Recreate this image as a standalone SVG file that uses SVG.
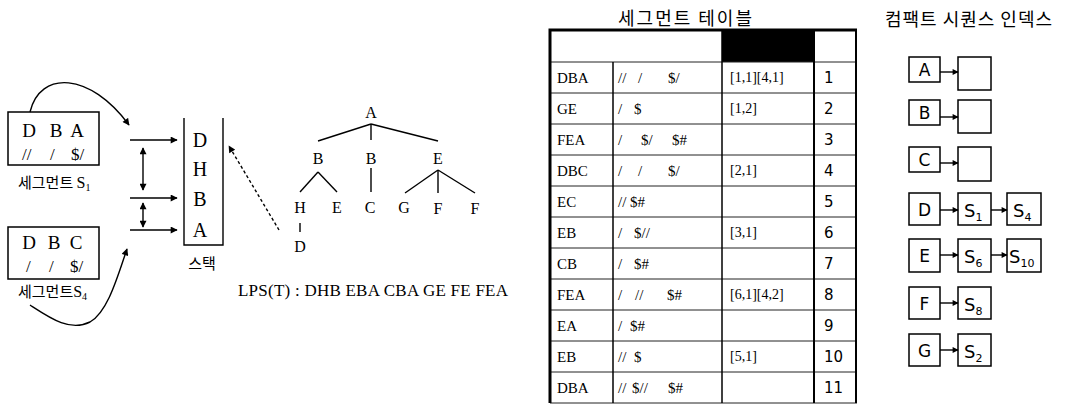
<svg xmlns="http://www.w3.org/2000/svg" width="1065" height="405" viewBox="0 0 1065 405">
  <style>
    .serif { font-family: "Liberation Serif", "Times New Roman", serif; fill: #000; }
    .kr { font-family: "Noto Sans CJK KR", "Noto Sans", sans-serif; fill: #000; }
    .sans { font-family: "DejaVu Sans", Verdana, sans-serif; fill: #000; }
    .box { fill: #fff; stroke: #000; stroke-width: 1.5; }
    .edge { stroke: #000; stroke-width: 1.4; fill: none; }
    .rowline { stroke: #222; stroke-width: 1; }
    .colline { stroke: #000; stroke-width: 1.5; }
    .mid { text-anchor: middle; }
  </style>
  <defs>
    <marker id="arrow" viewBox="0 0 10 10" refX="9" refY="5" markerWidth="8" markerHeight="7" markerUnits="userSpaceOnUse" orient="auto-start-reverse">
      <path d="M0,0 L10,5 L0,10 z" fill="#000"/>
    </marker>
    <marker id="arrowSmall" viewBox="0 0 10 10" refX="9" refY="5" markerWidth="7" markerHeight="6" markerUnits="userSpaceOnUse" orient="auto">
      <path d="M0,0 L10,5 L0,10 z" fill="#000"/>
    </marker>
  </defs>

  <!-- segment S1 -->
  <g id="segment-s1">
    <rect class="box" x="8" y="112" width="91" height="53"/>
    <text class="serif mid" font-size="19" x="29" y="137">D</text>
    <text class="serif mid" font-size="19" x="56" y="137">B</text>
    <text class="serif mid" font-size="19" x="77" y="137">A</text>
    <text class="serif" font-size="17" x="22" y="160">//</text>
    <text class="serif" font-size="17" x="50" y="160">/</text>
    <text class="serif" font-size="17" x="71" y="160">$/</text>
    <text x="18" y="188"><tspan class="kr" font-size="15">세그먼트 </tspan><tspan class="serif" font-size="16">S</tspan><tspan class="serif" font-size="10" dy="3">1</tspan></text>
  </g>

  <!-- segment S4 -->
  <g id="segment-s4">
    <rect class="box" x="8" y="227" width="91" height="52"/>
    <text class="serif mid" font-size="19" x="29" y="249">D</text>
    <text class="serif mid" font-size="19" x="54" y="249">B</text>
    <text class="serif mid" font-size="19" x="76" y="249">C</text>
    <text class="serif" font-size="17" x="26" y="272">/</text>
    <text class="serif" font-size="17" x="49" y="272">/</text>
    <text class="serif" font-size="17" x="70" y="272">$/</text>
    <text x="18" y="297"><tspan class="kr" font-size="15">세그먼트</tspan><tspan class="serif" font-size="16">S</tspan><tspan class="serif" font-size="10" dy="3">4</tspan></text>
  </g>

  <!-- stack -->
  <g id="stack">
    <path class="edge" d="M184,118 V245 H223 V118"/>
    <text class="serif mid" font-size="20" x="200" y="147">D</text>
    <text class="serif mid" font-size="20" x="200" y="176">H</text>
    <text class="serif mid" font-size="20" x="200" y="206">B</text>
    <text class="serif mid" font-size="20" x="200" y="237">A</text>
    <text class="kr mid" font-size="15" x="202" y="269">스택</text>
  </g>

  <!-- suffix tree -->
  <g id="tree">
    <g class="serif mid" font-size="16">
      <text x="371" y="118">A</text>
      <text x="318" y="164">B</text>
      <text x="371" y="164">B</text>
      <text x="438" y="164">E</text>
      <text x="300" y="213">H</text>
      <text x="337" y="213">E</text>
      <text x="370" y="213">C</text>
      <text x="404" y="213">G</text>
      <text x="438" y="214">F</text>
      <text x="475" y="214">F</text>
      <text x="300" y="252">D</text>
    </g>
    <g class="edge">
      <line x1="371" y1="124" x2="318" y2="141"/>
      <line x1="371" y1="124" x2="371" y2="140"/>
      <line x1="371" y1="124" x2="438" y2="141"/>
      <line x1="318" y1="172" x2="300" y2="192"/>
      <line x1="318" y1="172" x2="337" y2="192"/>
      <line x1="371" y1="168" x2="371" y2="192"/>
      <line x1="438" y1="170" x2="405" y2="193"/>
      <line x1="438" y1="170" x2="438" y2="193"/>
      <line x1="438" y1="170" x2="475" y2="193"/>
      <line x1="300" y1="223" x2="300" y2="232"/>
    </g>
    <text class="serif" font-size="17" x="238" y="296" textLength="270" lengthAdjust="spacing">LPS(T) : DHB EBA CBA GE FE FEA</text>
  </g>

  <!-- connectors -->
  <g id="connectors">
    <path class="edge" d="M30,112 C40,70 90,72 129,125" marker-end="url(#arrow)"/>
    <path class="edge" d="M30,305 C50,318 70,332 90,322 C108,312 118,275 127,249" marker-end="url(#arrow)"/>
    <line class="edge" x1="130" y1="140" x2="177" y2="140" marker-end="url(#arrow)"/>
    <line class="edge" x1="130" y1="198" x2="177" y2="198" marker-end="url(#arrow)"/>
    <line class="edge" x1="130" y1="230" x2="177" y2="230" marker-end="url(#arrow)"/>
    <line class="edge" x1="143" y1="148" x2="143" y2="190" marker-start="url(#arrow)" marker-end="url(#arrow)"/>
    <line class="edge" x1="143" y1="203" x2="143" y2="227" marker-start="url(#arrow)" marker-end="url(#arrow)"/>
    <line class="edge" x1="279" y1="230" x2="229" y2="146" stroke-dasharray="3,2.5" marker-end="url(#arrow)"/>
  </g>

  <!-- segment table -->
  <g id="segment-table">
    <text class="kr mid" font-size="18" letter-spacing="2" x="686" y="25">세그먼트 테이블</text>
    <rect x="722" y="30" width="92" height="32" fill="#000"/>
    <g class="rowline">
      <line x1="550" y1="62" x2="857" y2="62"/>
      <line x1="550" y1="93" x2="857" y2="93"/>
      <line x1="550" y1="124" x2="857" y2="124"/>
      <line x1="550" y1="155" x2="857" y2="155"/>
      <line x1="550" y1="186" x2="857" y2="186"/>
      <line x1="550" y1="217" x2="857" y2="217"/>
      <line x1="550" y1="248" x2="857" y2="248"/>
      <line x1="550" y1="279" x2="857" y2="279"/>
      <line x1="550" y1="310" x2="857" y2="310"/>
      <line x1="550" y1="341" x2="857" y2="341"/>
      <line x1="550" y1="372" x2="857" y2="372"/>
      <line x1="550" y1="403" x2="857" y2="403"/>
    </g>
    <g class="colline">
      <line x1="613" y1="62" x2="613" y2="403"/>
      <line x1="722" y1="30" x2="722" y2="403"/>
      <line x1="814" y1="30" x2="814" y2="403" stroke-width="2"/>
      <line x1="856" y1="30" x2="856" y2="403" stroke-width="2"/>
    </g>
    <path d="M550,403 V30 H857" fill="none" stroke="#000" stroke-width="3"/>

    <g class="serif" font-size="15">
      <text x="557" y="83">DBA</text>
      <text x="557" y="114">GE</text>
      <text x="557" y="145">FEA</text>
      <text x="557" y="176">DBC</text>
      <text x="557" y="207">EC</text>
      <text x="557" y="238">EB</text>
      <text x="557" y="269">CB</text>
      <text x="557" y="300">FEA</text>
      <text x="557" y="331">EA</text>
      <text x="557" y="362">EB</text>
      <text x="557" y="393">DBA</text>

      <text y="83"><tspan x="618">//</tspan><tspan x="638">/</tspan><tspan x="668">$/</tspan></text>
      <text y="114"><tspan x="618">/</tspan><tspan x="634">$</tspan></text>
      <text y="145"><tspan x="618">/</tspan><tspan x="641">$/</tspan><tspan x="672">$#</tspan></text>
      <text y="176"><tspan x="618">/</tspan><tspan x="638">/</tspan><tspan x="668">$/</tspan></text>
      <text y="207"><tspan x="618">//</tspan><tspan x="630">$#</tspan></text>
      <text y="238"><tspan x="618">/</tspan><tspan x="634">$//</tspan></text>
      <text y="269"><tspan x="618">/</tspan><tspan x="634">$#</tspan></text>
      <text y="300"><tspan x="618">/</tspan><tspan x="635">//</tspan><tspan x="667">$#</tspan></text>
      <text y="331"><tspan x="618">/</tspan><tspan x="630">$#</tspan></text>
      <text y="362"><tspan x="618">//</tspan><tspan x="634">$</tspan></text>
      <text y="393"><tspan x="618">//</tspan><tspan x="632">$//</tspan><tspan x="668">$#</tspan></text>
    </g>
    <g class="serif" font-size="14">
      <text x="730" y="82">[1,1][4,1]</text>
      <text x="730" y="113">[1,2]</text>
      <text x="730" y="175">[2,1]</text>
      <text x="730" y="237">[3,1]</text>
      <text x="730" y="299">[6,1][4,2]</text>
      <text x="730" y="361">[5,1]</text>
    </g>
    <g class="sans" font-size="15">
      <text x="824" y="83">1</text>
      <text x="824" y="114">2</text>
      <text x="824" y="145">3</text>
      <text x="824" y="176">4</text>
      <text x="824" y="207">5</text>
      <text x="824" y="238">6</text>
      <text x="824" y="269">7</text>
      <text x="824" y="300">8</text>
      <text x="824" y="331">9</text>
      <text x="824" y="362">10</text>
      <text x="824" y="393">11</text>
    </g>
  </g>

  <!-- compact sequence index -->
  <g id="compact-index">
    <text class="kr mid" font-size="18" letter-spacing="1" x="969" y="26">컴팩트 시퀀스 인덱스</text>

    <g id="idx-a">
      <rect class="box" x="909" y="57" width="31" height="25"/>
      <text class="sans mid" font-size="17" x="924.5" y="76">A</text>
      <rect class="box" x="958" y="57" width="33" height="33"/>
    </g>
    <g id="idx-b">
      <rect class="box" x="909" y="100" width="31" height="25"/>
      <text class="sans mid" font-size="17" x="924.5" y="119">B</text>
      <rect class="box" x="958" y="100" width="33" height="33"/>
    </g>
    <g id="idx-c">
      <rect class="box" x="909" y="147" width="31" height="25"/>
      <text class="sans mid" font-size="17" x="924.5" y="166">C</text>
      <rect class="box" x="958" y="147" width="33" height="34"/>
    </g>
    <g id="idx-d">
      <rect class="box" x="909" y="193" width="31" height="32"/>
      <text class="sans mid" font-size="17" x="924.5" y="216">D</text>
      <rect class="box" x="958" y="193" width="33" height="32"/>
      <text class="sans" font-size="18" x="964" y="217">S<tspan font-size="11" dy="4">1</tspan></text>
      <rect class="box" x="1007" y="193" width="34" height="32"/>
      <text class="sans" font-size="18" x="1013" y="217">S<tspan font-size="11" dy="4">4</tspan></text>
    </g>
    <g id="idx-e">
      <rect class="box" x="909" y="239" width="31" height="33"/>
      <text class="sans mid" font-size="17" x="924.5" y="262">E</text>
      <rect class="box" x="958" y="239" width="33" height="33"/>
      <text class="sans" font-size="18" x="964" y="263">S<tspan font-size="11" dy="4">6</tspan></text>
      <rect class="box" x="1007" y="239" width="34" height="33"/>
      <text class="sans" font-size="18" x="1009" y="263">S<tspan font-size="11" dy="4">10</tspan></text>
    </g>
    <g id="idx-f">
      <rect class="box" x="909" y="287" width="31" height="32"/>
      <text class="sans mid" font-size="17" x="924.5" y="310">F</text>
      <rect class="box" x="958" y="287" width="33" height="32"/>
      <text class="sans" font-size="18" x="964" y="311">S<tspan font-size="11" dy="4">8</tspan></text>
    </g>
    <g id="idx-g">
      <rect class="box" x="909" y="334" width="31" height="32"/>
      <text class="sans mid" font-size="17" x="924.5" y="357">G</text>
      <rect class="box" x="958" y="334" width="33" height="32"/>
      <text class="sans" font-size="18" x="964" y="358">S<tspan font-size="11" dy="4">2</tspan></text>
    </g>

    <g id="idx-links">
      <line class="edge" x1="940" y1="72" x2="958" y2="72" marker-end="url(#arrowSmall)"/>
      <line class="edge" x1="940" y1="117" x2="958" y2="117" marker-end="url(#arrowSmall)"/>
      <line class="edge" x1="940" y1="163" x2="958" y2="163" marker-end="url(#arrowSmall)"/>
      <line class="edge" x1="940" y1="210" x2="958" y2="210" marker-end="url(#arrowSmall)"/>
      <line class="edge" x1="991" y1="210" x2="1007" y2="210" marker-end="url(#arrowSmall)"/>
      <line class="edge" x1="940" y1="255" x2="958" y2="255" marker-end="url(#arrowSmall)"/>
      <line class="edge" x1="991" y1="255" x2="1007" y2="255" marker-end="url(#arrowSmall)"/>
      <line class="edge" x1="940" y1="303" x2="958" y2="303" marker-end="url(#arrowSmall)"/>
      <line class="edge" x1="940" y1="350" x2="958" y2="350" marker-end="url(#arrowSmall)"/>
    </g>
  </g>
</svg>
